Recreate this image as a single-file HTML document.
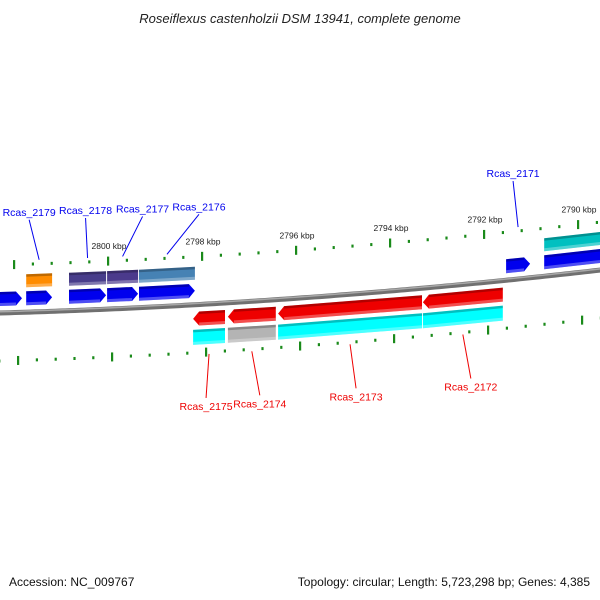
<!DOCTYPE html>
<html><head><meta charset="utf-8"><style>
body{margin:0;background:#fff}
svg{display:block;font-family:"Liberation Sans",sans-serif}
</style></head><body>
<svg id="c" width="600" height="600" viewBox="0 0 600 600">
<text x="300" y="23" text-anchor="middle" font-size="13" font-style="italic" fill="#222">Roseiflexus castenholzii DSM 13941, complete genome</text>
<text x="9" y="586" font-size="12" fill="#111">Accession: NC_009767</text>
<text x="590" y="586" font-size="12" fill="#111" text-anchor="end">Topology: circular; Length: 5,723,298 bp; Genes: 4,385</text>
<g id="ticks"></g><g id="backbone"></g><g id="genes"></g><g id="labels"></g>
</svg>
<script>
const geneNames=["","Rcas_2179","Rcas_2178","Rcas_2177","Rcas_2176","Rcas_2171","","Rcas_2175","Rcas_2174","Rcas_2173","Rcas_2172"];
const geneStart=[2802.4,2801.74,2800.83,2800.02,2799.34,2791.53,2790.72,2798.19,2797.45,2796.38,2793.30];
const geneEnd=[2801.83,2801.19,2800.04,2799.36,2798.15,2791.02,2789.0,2797.51,2796.43,2793.32,2791.60];
const geneStrand=[1,1,1,1,1,1,1,-1,-1,-1,-1];
const cogColors=["","#ff8c00","#483d8b","#4b3a8c","#4682b4","","#00c0c0","#00ffff","#b4b4b4","#00ffff","#00ffff"];
const tickLabels=[2800,2798,2796,2794,2792,2790];
const NS="http://www.w3.org/2000/svg";
function sx(k){return 108+(2800-k)*47;}
function yb(x){return 313-0.0283*x-0.000072*x*x;}
function mk(tag,attrs,parent){const e=document.createElementNS(NS,tag);for(const k in attrs)e.setAttribute(k,attrs[k]);parent.appendChild(e);return e;}
const gT=document.getElementById('ticks'),gB=document.getElementById('backbone'),gG=document.getElementById('genes'),gL=document.getElementById('labels');
// backbone
let d="";for(let x=-5;x<=605;x+=5){d+=(x===-5?"M":"L")+x+" "+yb(x).toFixed(2)+" ";}
const bb=mk('path',{d:d,stroke:'#707070','stroke-width':5,fill:'none'},gB);


const bb2=mk('path',{d:d,stroke:'#a8a8a8','stroke-width':1.5,fill:'none',transform:'translate(0,-1.2)'},gB);


// ticks
for(let i=0;i<=35;i++){const k=2788.4+i*0.4;const x=sx(k);if(x<-5||x>605)continue;
 const major=Math.abs(k/2-Math.round(k/2))<0.01;
 for(const off of [-48,48]){const xx=off>0?x+4:x;const y=yb(xx)+off;const h=major?9:3;
  const r=mk('rect',{x:xx-1,y:y-h/2,width:major?2.2:2.2,height:h,fill:'#1a8a1a'},gT);
  
  }}
tickLabels.forEach(k=>{const x=sx(k);const t=mk('text',{x:x+1,y:yb(x)-60,'font-size':8.5,'text-anchor':'middle',fill:'#222'},gT);t.textContent=k+" kbp";
 
 });
function band(x1,x2,o1,o2,fill,strand,arrow,name){
 const a=Math.min(x1,x2),b=Math.max(x1,x2);const hd=arrow?6:0;const mid=(o1+o2)/2;let pts;
 if(strand>0){pts=[[a,o1],[b-hd,o1],[b,mid],[b-hd,o2],[a,o2]];}
 else{pts=[[a+hd,o1],[b,o1],[b,o2],[a+hd,o2],[a,mid]];}
 const p=mk('polygon',{points:pts.map(q=>q[0].toFixed(1)+","+(yb(q[0])+q[1]).toFixed(1)).join(" "),fill:fill},gG);
 
 
 // shading strips
 const s1=mk('polygon',{points:[[strand>0?a:a+hd,o1],[strand>0?b-hd:b,o1],[strand>0?b-hd:b,o1+2.5],[strand>0?a:a+hd,o1+2.5]].map(q=>q[0].toFixed(1)+","+(yb(q[0])+q[1]).toFixed(1)).join(" "),fill:'rgba(0,0,0,0.25)'},gG);
 
 
 const s2=mk('polygon',{points:[[strand>0?a:a+hd,o2-3],[strand>0?b-hd:b,o2-3],[strand>0?b-hd:b,o2],[strand>0?a:a+hd,o2]].map(q=>q[0].toFixed(1)+","+(yb(q[0])+q[1]).toFixed(1)).join(" "),fill:'rgba(255,255,255,0.3)'},gG);
 
 
}
for(let i=0;i<geneStart.length;i++){
 const x1=sx(geneStart[i]),x2=sx(geneEnd[i]);
 if(geneStrand[i]>0){
  band(x1,x2,-21,-7,'#0000ee',1,true,'gene-arrow');
  if(cogColors[i])band(x1,x2,-38,-25,cogColors[i],1,false,'cog-bar');
 }else{
  band(x1,x2,7,21,'#ee0000',-1,true,'gene-arrow');
  if(cogColors[i])band(x1,x2,25,40,cogColors[i],-1,false,'cog-bar');
 }
 if(geneNames[i]){
  const c=(x1+x2)/2;const fwd=geneStrand[i]>0;
  let lx,ly,tx,ty;
  if(fwd){const off={"Rcas_2179":-10,"Rcas_2178":-2,"Rcas_2177":20,"Rcas_2176":32,"Rcas_2171":-5}[geneNames[i]];
   ly=yb(c)-52;ty=ly-44+(geneNames[i]==="Rcas_2171"?-6:0);tx=c+off;}
  else{const off={"Rcas_2175":-3,"Rcas_2174":8,"Rcas_2173":6,"Rcas_2172":8}[geneNames[i]];
   ly=yb(c)+50;ty=ly+50;tx=c+off;}
  const col=fwd?'#0000ee':'#ee0000';
  const ln=mk('line',{x1:c,y1:ly,x2:tx,y2:fwd?ty+4:ty-6,stroke:col,'stroke-width':1},gL);
  
  
  const t=mk('text',{x:tx,y:fwd?ty:ty+6,'font-size':10.5,'text-anchor':'middle',fill:col},gL);
  t.textContent=geneNames[i];
  
  
 }
}
</script>
</body></html>
